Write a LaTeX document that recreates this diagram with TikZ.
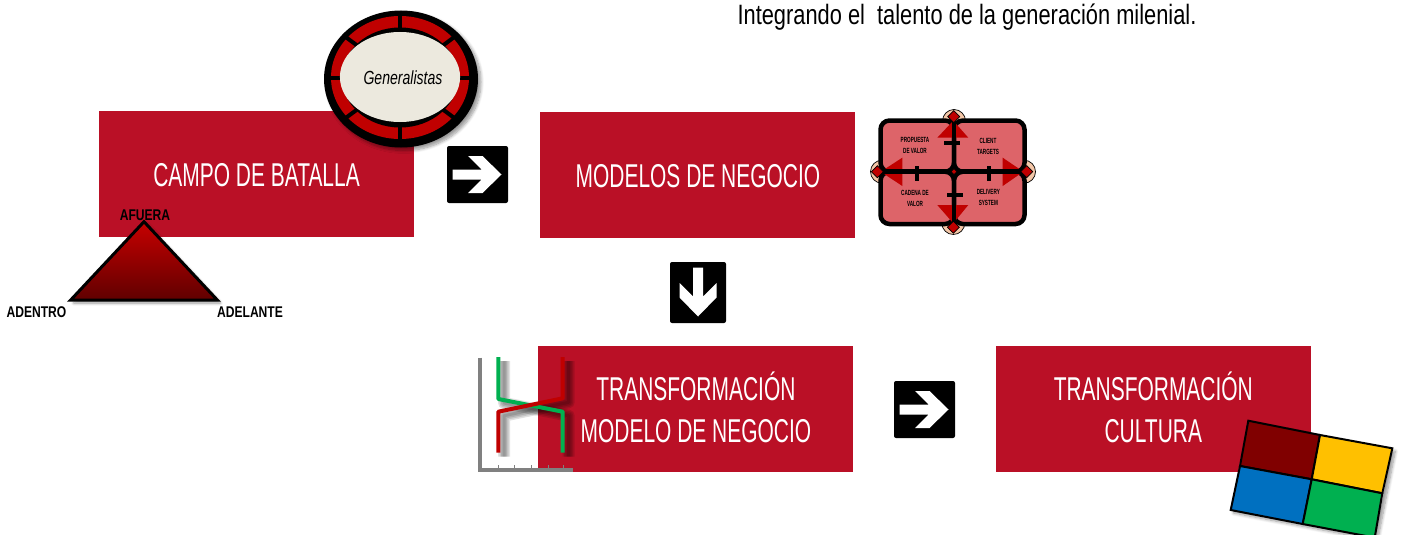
\documentclass[tikz,border=0pt]{standalone}
\usepackage{fontspec}
\setmainfont{Liberation Sans}
\usetikzlibrary{arrows.meta,positioning,shapes.geometric,shadows.blur}

\definecolor{boxred}{RGB}{186,16,38}
\definecolor{deepred}{RGB}{192,0,0}
\definecolor{canvasred}{RGB}{221,100,105}
\definecolor{peach}{RGB}{244,199,168}
\definecolor{cream}{RGB}{236,233,222}
\definecolor{chartgreen}{RGB}{0,176,80}
\definecolor{chartgray}{RGB}{128,128,128}

\newcommand{\squeeze}[2][.6]{\scalebox{#1}[1]{\begin{tabular}{@{}c@{}}#2\end{tabular}}}
\newcommand{\boxtext}[1]{\squeeze[.635]{\rule{0pt}{37.5pt}#1}}

\tikzset{
	softshadow/.style={blur shadow={shadow xshift=3pt,shadow yshift=-3pt,shadow blur steps=8,shadow blur radius=3pt}},
	redbox/.style={fill=boxred,text=white,minimum width=315pt,minimum height=126pt,inner sep=0pt,font=\fontsize{33}{42}\selectfont},
	signbox/.style={fill=black,rounded corners=2pt,inner sep=0pt},
	signarrow/.style={fill=white},
	tinylabel/.style={font=\fontsize{7.5}{11}\selectfont\bfseries,inner sep=0pt},
	cornerlabel/.style={font=\fontsize{15.5}{18}\selectfont\bfseries,inner sep=0pt},
	canvascell/.style={draw=black,line width=4.5pt,fill=canvasred,rounded corners=9pt},
	canvastri/.style={fill=deepred},
	canvasbump/.style={draw=black,line width=.7pt,fill=peach},
	canvasdiamond/.style={draw=black,line width=.7pt,fill=deepred},
	canvastick/.style={line width=4pt},
	chartaxis/.style={draw=chartgray,line width=4pt},
	chartline/.style={line width=4pt,line join=round},
	chartshade/.style={draw=black,opacity=.12,line join=round},
	flagcell/.style={draw=black,line width=2pt,line join=miter}
}

\begin{document}
\begin{tikzpicture}[x=1pt,y=-1pt,node distance=126pt]
	\useasboundingbox (0,0) rectangle (1402,535);

	\node[redbox]  (campo)  at (256.5,174) {\boxtext{CAMPO DE BATALLA}};
	\node[redbox]  (modelos)  [right=of campo,yshift=-1pt] {\boxtext{MODELOS DE NEGOCIO}};
	\node[redbox]  (transmodelo)  [below=108pt of modelos,xshift=-2pt] {\boxtext{TRANSFORMACIÓN\\MODELO DE NEGOCIO}};
	\node[redbox]  (transcultura)  [right=143pt of transmodelo,xshift=-1pt] {\boxtext{TRANSFORMACIÓN\\CULTURA}};

	\node[inner sep=0pt] (titulo) at (967,19) {\fontsize{28}{30}\selectfont\squeeze[.78]{Integrando el\ \ talento de la generación milenial.}};

	% flechas
	\node[signbox,minimum width=61pt,minimum height=57pt]  (signA)  at (477.5,174.5) {};
	\node[signbox,minimum width=56pt,minimum height=61pt]  (signB)  at (698,292.5) {};
	\node[signbox,minimum width=61pt,minimum height=57pt]  (signC)  at (924.5,409.5) {};
	\foreach \sign/\ang in {signA/0,signB/-90,signC/0}
		\fill[signarrow,shift={(\sign.center)},rotate=\ang] (24,0) -- (5,18.5) -- (-9.5,18.5) -- (4,5) -- (-25,5) -- (-25,-5) -- (4,-5) -- (-9.5,-18.5) -- (5,-18.5) -- cycle;

	% rueda
	\fill[black,softshadow] (401,79) ellipse [x radius=77,y radius=68.5];
	\fill[deepred] (400,77.5) ellipse [x radius=69,y radius=61.5];
	\foreach \ang in {0,90,180,270,40,140,220,320}
		\draw[black,line width=4pt] (400,77.5) -- ++(\ang:72 and 64);
	\fill[black] (400,77.5) ellipse [x radius=58,y radius=50];
	\node[ellipse,fill=cream,minimum width=104pt,minimum height=90pt,inner sep=0pt] (rueda) at (400,77) {\hspace*{6pt}\fontsize{19}{22}\selectfont\itshape\squeeze[.74]{\rule{0pt}{21.4pt}Generalistas}};

	% triangulo
	\coordinate (afuera) at (144,221.7);
	\coordinate (adentro) at (70.7,300);
	\coordinate (adelante) at (217.3,300);
	\path[draw=black,line width=3pt,line join=miter,top color=deepred!90!red,bottom color=deepred!50!black,softshadow] (afuera) -- (adelante) -- (adentro) -- cycle;
	\node[cornerlabel] (lblafuera) at (145,216.5) {\squeeze[.78]{AFUERA}};
	\node[cornerlabel] (lbladentro) at (36.5,314) {\squeeze[.78]{ADENTRO}};
	\node[cornerlabel] (lbladelante) at (250,314) {\squeeze[.78]{ADELANTE}};

	% canvas
	\coordinate (canvasmid) at (954,171.7);
	\foreach \px/\py in {954/121,882/171.7,1024/171.7,953.3/223}
		\draw[canvasbump] (\px,\py) circle (11.5);
	\draw[canvascell] (880.5,120.5) rectangle (canvasmid);
	\draw[canvascell] (1024.5,120.5) rectangle (canvasmid);
	\draw[canvascell] (880.5,224) rectangle (canvasmid);
	\draw[canvascell] (1024.5,224) rectangle (canvasmid);
	\fill[canvastri] (953.3,120.7) -- (937.3,137.7) -- (968.3,137.7) -- cycle;
	\fill[canvastri] (880.7,171.7) -- (902.3,157.7) -- (902.3,186) -- cycle;
	\fill[canvastri] (1023.3,171.7) -- (1002.7,157.7) -- (1002.7,186) -- cycle;
	\fill[canvastri] (953.3,223.3) -- (937.3,205) -- (968.3,205) -- cycle;
	\draw[black,line width=4.5pt] (954,121) -- (954,224);
	\draw[black,line width=4.5pt] (881,171.7) -- (1024,171.7);
	\draw[canvastick] (944,142.7) -- (960,142.7);
	\draw[canvastick] (947,195) -- (963,195);
	\draw[canvastick] (916.7,166) -- (916.7,180.7);
	\draw[canvastick] (988.7,166) -- (988.7,180.7);
	\foreach \px/\py/\rad in {953.7/116.7/6,877.3/171.7/6,1026.7/171.7/6,953.3/227.3/6,954/171.7/3}
		\draw[canvasdiamond] (\px-\rad,\py) -- (\px,\py-\rad) -- (\px+\rad,\py) -- (\px,\py+\rad) -- cycle;
	\node[tinylabel] (propuesta) at (915,146) {\squeeze[.62]{PROPUESTA\\DE VALOR}};
	\node[tinylabel] (cliente) at (988,146.5) {\squeeze[.62]{CLIENT\\TARGETS}};
	\node[tinylabel] (cadena) at (915,199) {\squeeze[.62]{CADENA DE\\VALOR}};
	\node[tinylabel] (delivery) at (988.3,198) {\squeeze[.62]{DELIVERY\\SYSTEM}};

	% grafica
	\draw[chartaxis] (480,357.7) -- (480,470) -- (573,470);
	\foreach \px in {498.3,514,531,548,563.3}
		\draw[chartgray,line width=1pt] (\px,465) -- (\px,469);
	\foreach \wid in {3,6,9,12} {
		\draw[chartshade,line width=\wid pt] (504,361) -- (504,403) -- (568.7,415.7) -- (568.7,456.7);
		\draw[chartshade,line width=\wid pt] (504,456.7) -- (504,415.7) -- (568.7,402.3) -- (568.7,361);
	}
	\draw[chartline,chartgreen] (498.3,357) -- (498.3,399) -- (562.7,411.7) -- (562.7,452.7);
	\draw[chartline,deepred] (498.3,452.7) -- (498.3,411.7) -- (562.7,398.3) -- (562.7,357);

	% cuadro de colores
	\coordinate (flagTL) at (1248.3,420.7);
	\coordinate (flagT) at (1320,435);
	\coordinate (flagTR) at (1392.3,448.3);
	\coordinate (flagL) at (1240,466);
	\coordinate (flagM) at (1311.7,479.3);
	\coordinate (flagR) at (1382.3,493.3);
	\coordinate (flagBL) at (1230.7,510);
	\coordinate (flagB) at (1302.7,524);
	\coordinate (flagBR) at (1374.7,537.6);
	\fill[softshadow,white] (flagTL) -- (flagTR) -- (flagBR) -- (flagBL) -- cycle;
	\draw[flagcell,fill={rgb,255:red,128;green,0;blue,0}] (flagTL) -- (flagT) -- (flagM) -- (flagL) -- cycle;
	\draw[flagcell,fill={rgb,255:red,255;green,192;blue,0}] (flagT) -- (flagTR) -- (flagR) -- (flagM) -- cycle;
	\draw[flagcell,fill={rgb,255:red,0;green,112;blue,192}] (flagL) -- (flagM) -- (flagB) -- (flagBL) -- cycle;
	\draw[flagcell,fill=chartgreen] (flagM) -- (flagR) -- (flagBR) -- (flagB) -- cycle;
\end{tikzpicture}
\end{document}
